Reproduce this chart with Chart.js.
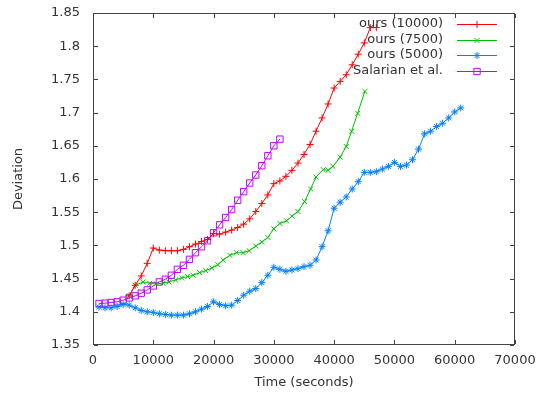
<!DOCTYPE html>
<html>
<head>
<meta charset="utf-8">
<script src="https://cdn.jsdelivr.net/npm/chart.js@4.4.1/dist/chart.umd.min.js"></script>
<style>
  html, body { margin: 0; padding: 0; background: #ffffff; }
  #wrap { width: 546px; height: 394px; }
</style>
</head>
<body>
<div id="wrap"><canvas id="c" width="546" height="394"></canvas></div>
<script>
// ---- data ----
const seriesLabels = ['ours (10000)', 'ours (7500)', 'ours (5000)', 'Salarian et al.'];

const ours10000X = [6000,7000,8000,9000,10000,11000,12000,13000,14000,15000,16000,17000,18000,19000,20000,21000,22000,23000,24000,25000,26000,27000,28000,29000,30000,31000,32000,33000,34000,35000,36000,37000,38000,39000,40000,41000,42000,43000,44000,45000,46000,47000];
const ours10000Y = [1.424,1.440,1.454,1.473,1.496,1.493,1.492,1.492,1.492,1.494,1.498,1.502,1.506,1.509,1.518,1.517,1.520,1.523,1.527,1.532,1.540,1.551,1.563,1.576,1.593,1.597,1.604,1.613,1.624,1.637,1.652,1.672,1.692,1.713,1.737,1.747,1.757,1.772,1.788,1.805,1.828,1.828];

const ours7500X = [6000,7000,8300,9400,10500,11600,12600,13700,14700,15700,16600,17700,18700,19700,20700,21600,22700,23800,24900,25900,27000,28000,29000,30000,31000,32100,33000,34000,35100,36100,37000,38200,39000,39800,41000,42000,42900,43900,45100];
const ours7500Y = [1.424,1.440,1.445,1.443,1.442,1.443,1.445,1.448,1.451,1.453,1.455,1.459,1.462,1.466,1.471,1.478,1.485,1.489,1.489,1.492,1.499,1.505,1.512,1.525,1.533,1.537,1.544,1.551,1.566,1.585,1.603,1.614,1.613,1.619,1.633,1.649,1.672,1.699,1.732];

const ours5000X = [1000,2000,3000,4000,5000,6000,7000,8000,9000,10000,11000,12000,13000,14000,15000,16000,17000,18000,19000,20000,21000,22000,23000,24000,25000,26000,27000,28000,29000,30000,31000,32000,33000,34000,35000,36000,37000,38000,39000,40000,41000,42000,43000,44000,45000,46000,47000,48000,49000,50000,51000,52000,53000,54000,55000,56000,57000,58000,59000,60000,61000];
const ours5000Y = [1.407,1.406,1.406,1.408,1.411,1.410,1.406,1.402,1.400,1.399,1.397,1.396,1.395,1.395,1.395,1.397,1.400,1.404,1.408,1.415,1.411,1.409,1.410,1.417,1.425,1.431,1.435,1.444,1.455,1.467,1.464,1.461,1.463,1.465,1.468,1.470,1.478,1.498,1.522,1.556,1.565,1.573,1.585,1.596,1.610,1.610,1.611,1.615,1.619,1.625,1.619,1.621,1.629,1.645,1.668,1.672,1.679,1.684,1.692,1.701,1.707];

const salarianX = [1000,2000,3000,4000,5000,6000,7000,8000,9000,10000,11000,12000,13000,14000,15000,16000,17000,18000,19000,20000,21000,22000,23000,24000,25000,26000,27000,28000,29000,30000,31000];
const salarianY = [1.4125,1.413,1.414,1.415,1.4175,1.421,1.424,1.428,1.433,1.439,1.445,1.449,1.455,1.464,1.470,1.479,1.489,1.498,1.507,1.519,1.531,1.542,1.554,1.568,1.581,1.594,1.606,1.620,1.635,1.650,1.660];

const xTicks = [0,10000,20000,30000,40000,50000,60000,70000];
const xTickLabels = ['0','10000','20000','30000','40000','50000','60000','70000'];
const yTicks = [1.35,1.4,1.45,1.5,1.55,1.6,1.65,1.7,1.75,1.8,1.85];
const yTickLabels = ['1.35','1.4','1.45','1.5','1.55','1.6','1.65','1.7','1.75','1.8','1.85'];

const xTitle = 'Time (seconds)';
const yTitle = 'Deviation';

// ---- styling ----
const FONT = 'DejaVu Sans';
const TXT = '#333333';
const FRAME = '#444444';
const colors = ['#ff0000', '#00c000', '#0080ff', '#c000ff'];
const styles = ['cross', 'crossRot', 'star', 'rect'];
const radii = [3.5, 3.5, 3.5, 4.5];

function pts(xs, ys) { return xs.map((x, i) => ({ x: x, y: ys[i] })); }
const seriesData = [
  pts(ours10000X, ours10000Y),
  pts(ours7500X, ours7500Y),
  pts(ours5000X, ours5000Y),
  pts(salarianX, salarianY)
];

const datasets = seriesLabels.map((lab, i) => ({
  label: lab,
  data: seriesData[i],
  borderColor: colors[i],
  backgroundColor: 'rgba(0,0,0,0)',
  pointBorderColor: colors[i],
  pointBackgroundColor: 'rgba(0,0,0,0)',
  pointStyle: styles[i],
  pointRadius: radii[i],
  pointBorderWidth: 1,
  borderWidth: 1,
  tension: 0,
  fill: false
}));

function drawMarker(ctx, style, r, x, y, color) {
  ctx.save();
  ctx.strokeStyle = color;
  ctx.lineWidth = 1;
  ctx.beginPath();
  if (style === 'cross' || style === 'star') {
    ctx.moveTo(x - r, y); ctx.lineTo(x + r, y);
    ctx.moveTo(x, y - r); ctx.lineTo(x, y + r);
  }
  if (style === 'crossRot' || style === 'star') {
    const d = r * Math.SQRT1_2;
    ctx.moveTo(x - d, y - d); ctx.lineTo(x + d, y + d);
    ctx.moveTo(x - d, y + d); ctx.lineTo(x + d, y - d);
  }
  if (style === 'rect') {
    const s = r * Math.SQRT1_2;
    ctx.rect(x - s, y - s, 2 * s, 2 * s);
  }
  ctx.stroke();
  ctx.restore();
}

const framePlugin = {
  id: 'gnuFrame',
  afterDraw(chart) {
    const ctx = chart.ctx;
    const a = chart.chartArea;
    const xs = chart.scales.x, ys = chart.scales.y;
    const tl = 4;
    ctx.save();
    ctx.fillStyle = FRAME;
    const L = Math.round(a.left), R = Math.round(a.right) - 1;
    const T = Math.round(a.top), B = Math.round(a.bottom) - 1;
    ctx.fillRect(L, T, R - L + 1, 1);
    ctx.fillRect(L, B, R - L + 1, 1);
    ctx.fillRect(L, T, 1, B - T + 1);
    ctx.fillRect(R, T, 1, B - T + 1);
    xTicks.forEach(v => {
      const px = Math.round(xs.getPixelForValue(v));
      ctx.fillRect(px, B - tl, 1, tl);
      ctx.fillRect(px, T + 1, 1, tl);
    });
    yTicks.forEach(v => {
      const py = Math.round(ys.getPixelForValue(v));
      ctx.fillRect(L + 1, py, tl, 1);
      ctx.fillRect(R - tl, py, tl, 1);
    });
    ctx.restore();

    // legend (gnuplot style, inside top-right)
    seriesLabels.forEach((lab, i) => {
      const y = Math.round(24 + i * 15.7);
      ctx.save();
      ctx.font = '13px "' + FONT + '"';
      ctx.textAlign = 'right';
      ctx.textBaseline = 'middle';
      ctx.fillStyle = TXT;
      ctx.fillText(lab, 443, y);
      ctx.restore();
      ctx.save();
      ctx.strokeStyle = colors[i];
      ctx.lineWidth = 1;
      ctx.beginPath();
      ctx.moveTo(457, y + 0.5);
      ctx.lineTo(497, y + 0.5);
      ctx.stroke();
      ctx.restore();
      drawMarker(ctx, styles[i], radii[i], 477, y + 0.5, colors[i]);
    });
  }
};

new Chart(document.getElementById('c'), {
  type: 'line',
  data: { datasets: datasets },
  options: {
    responsive: false,
    devicePixelRatio: 1,
    animation: false,
    layout: { padding: { top: 13, right: 31, left: 0, bottom: 0 } },
    plugins: {
      legend: { display: false },
      tooltip: { enabled: false }
    },
    scales: {
      x: {
        type: 'linear',
        min: 0, max: 70000,
        grid: { display: false, drawTicks: false },
        border: { display: false },
        afterBuildTicks: s => { s.ticks = xTicks.map(v => ({ value: v })); },
        afterFit: s => { s.height = 49; s.paddingLeft = 0; s.paddingRight = 0; },
        ticks: {
          padding: 8,
          color: TXT,
          font: { family: FONT, size: 13 },
          maxRotation: 0,
          autoSkip: false,
          callback: (v) => { const i = xTicks.indexOf(v); return i >= 0 ? xTickLabels[i] : ''; }
        },
        title: {
          display: true, text: xTitle, color: TXT,
          font: { family: FONT, size: 13 },
          padding: { top: 0, bottom: 4 }
        }
      },
      y: {
        type: 'linear',
        min: 1.35, max: 1.85,
        grid: { display: false, drawTicks: false },
        border: { display: false },
        afterBuildTicks: s => { s.ticks = yTicks.map(v => ({ value: v })); },
        afterFit: s => { s.width = 93; s.paddingTop = 0; s.paddingBottom = 0; },
        ticks: {
          padding: 13,
          color: TXT,
          font: { family: FONT, size: 13 },
          autoSkip: false,
          callback: (v) => {
            let best = 0, bd = 1e9;
            yTicks.forEach((t, i) => { const d = Math.abs(t - v); if (d < bd) { bd = d; best = i; } });
            return yTickLabels[best];
          }
        },
        title: {
          display: true, text: yTitle, color: TXT,
          font: { family: FONT, size: 13 },
          padding: { top: 11, bottom: 0 }
        }
      }
    }
  },
  plugins: [framePlugin]
});
</script>
</body>
</html>
